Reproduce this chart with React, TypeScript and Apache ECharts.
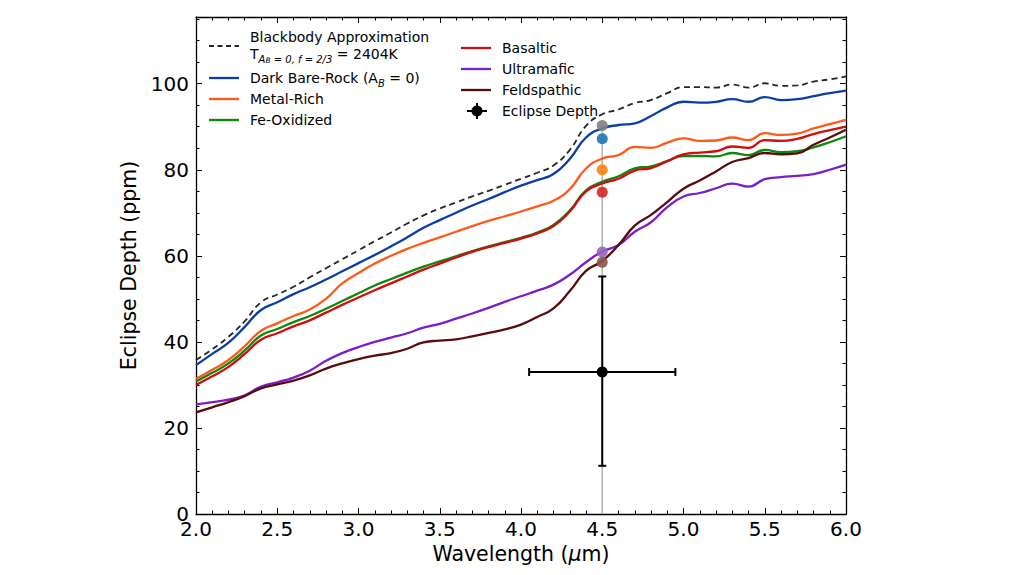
import React, { useEffect, useRef } from "react";
import * as echarts from "echarts";

const WL = [2.0, 2.1, 2.2, 2.3, 2.4, 2.5, 2.6, 2.7, 2.8, 2.9, 3.0, 3.1, 3.2, 3.3, 3.4, 3.5, 3.6, 3.7, 3.8, 3.9, 4.0, 4.1, 4.2, 4.3, 4.4, 4.5, 4.6, 4.7, 4.8, 4.9, 5.0, 5.1, 5.2, 5.3, 5.4, 5.5, 5.6, 5.7, 5.8, 5.9, 6.0];

const BLACKBODY = [35.8, 38.3, 41.2, 44.8, 49.2, 51.0, 52.8, 55.0, 57.1, 59.2, 61.3, 63.4, 65.4, 67.5, 69.4, 71.0, 72.4, 73.8, 75.1, 76.5, 77.9, 79.3, 81.0, 84.6, 90.2, 92.9, 94.0, 95.5, 96.2, 97.8, 99.2, 99.2, 99.1, 99.8, 99.1, 100.1, 99.5, 99.6, 100.5, 101.0, 101.7];
const DARK = [34.6, 37.2, 39.8, 43.5, 47.4, 49.2, 51.1, 52.7, 54.5, 56.4, 58.3, 60.2, 62.2, 64.3, 66.5, 68.3, 70.0, 71.7, 73.2, 74.8, 76.3, 77.6, 79.0, 82.5, 87.5, 89.6, 90.4, 90.8, 92.5, 94.5, 95.8, 95.6, 95.8, 96.4, 95.8, 96.9, 96.2, 96.4, 97.1, 97.8, 98.4];
const METAL = [31.4, 33.5, 35.8, 39.0, 42.6, 44.3, 46.0, 47.5, 50.0, 53.6, 56.0, 58.2, 60.0, 61.6, 63.0, 64.3, 65.6, 66.9, 68.1, 69.2, 70.3, 71.5, 72.8, 75.5, 80.3, 82.6, 83.4, 85.3, 85.1, 86.3, 87.3, 86.7, 86.8, 87.5, 86.9, 88.5, 88.1, 88.4, 89.6, 90.6, 91.6];
const FEOX = [30.8, 32.8, 35.0, 38.0, 41.5, 43.0, 44.6, 46.0, 47.7, 49.5, 51.3, 53.1, 54.6, 56.1, 57.5, 58.7, 59.9, 61.1, 62.2, 63.2, 64.2, 65.4, 67.2, 70.5, 75.2, 77.2, 78.5, 80.3, 80.8, 82.0, 83.2, 83.2, 83.1, 83.9, 83.4, 84.6, 84.1, 84.3, 85.2, 86.4, 87.8];
const BASALTIC = [30.0, 32.0, 34.2, 37.2, 40.5, 42.0, 43.6, 45.0, 46.8, 48.6, 50.3, 52.0, 53.6, 55.2, 56.8, 58.2, 59.6, 60.9, 62.0, 63.0, 64.0, 65.2, 66.9, 70.3, 75.0, 76.8, 77.9, 79.8, 80.4, 82.0, 83.6, 84.0, 84.3, 85.4, 85.1, 86.9, 86.7, 87.2, 88.3, 89.2, 90.0];
const ULTRAMAFIC = [25.5, 26.0, 26.6, 27.6, 29.6, 30.6, 31.7, 33.3, 35.6, 37.4, 38.8, 40.0, 41.0, 42.0, 43.3, 44.2, 45.4, 46.6, 47.9, 49.3, 50.6, 51.9, 53.3, 55.6, 58.5, 61.0, 62.5, 65.6, 67.8, 71.3, 73.8, 74.6, 75.7, 76.8, 76.1, 77.8, 78.3, 78.6, 79.0, 80.0, 81.2];
const FELDSPATHIC = [23.6, 24.8, 26.0, 27.4, 29.2, 30.1, 31.0, 32.2, 33.8, 35.0, 36.0, 36.8, 37.4, 38.4, 39.9, 40.3, 40.6, 41.3, 42.1, 42.9, 44.0, 45.8, 47.8, 51.8, 56.5, 58.8, 62.5, 67.0, 69.5, 72.5, 75.6, 77.5, 79.6, 81.8, 82.7, 83.9, 83.6, 83.8, 85.8, 87.5, 89.3];

const POINT_WL = 4.5;
const POINT_VALUES = [90.3, 87.2, 80.0, 74.8, 60.9, 58.5];
const POINT_COLORS = ["#7f7f7f", "#1f77b4", "#ff7f0e", "#d62728", "#9467bd", "#8c564b"];

const ECLIPSE = { x: 4.5, y: 33.0, xLo: 4.05, xHi: 4.95, yLo: 11.2, yHi: 55.2 };

const X_TICKS = [2.0, 2.5, 3.0, 3.5, 4.0, 4.5, 5.0, 5.5, 6.0];
const Y_TICKS = [0, 20, 40, 60, 80, 100];

const FONT = "DejaVu Sans";

const GRID = { left: 196, top: 17, width: 650, height: 497 };

export default function App() {
  const ref = useRef<HTMLDivElement>(null);
  useEffect(() => {
    document.body.style.margin = "0";
    const chart = echarts.init(ref.current!, null, { renderer: "svg" });
    const pair = (arr: number[]) => WL.map((w, i) => [w, arr[i]]);
    const lineSeries = (name: string, arr: number[], color: string, dashed = false) => ({
      name,
      type: "line",
      data: pair(arr),
      smooth: 0.5,
      showSymbol: false,
      silent: true,
      z: 3,
      lineStyle: { color, width: dashed ? 1.8 : 2.3, type: dashed ? [6, 4] : "solid" },
    });
    const tickColor = "#000";
    const option: any = {
      animation: false,
      backgroundColor: "#fff",
      grid: [
        { ...GRID, containLabel: false },
        { ...GRID, containLabel: false },
      ],
      xAxis: [
        {
          type: "value", gridIndex: 0, position: "bottom", min: 2, max: 6, interval: 0.5,
          axisLine: { show: true, onZero: false, lineStyle: { color: tickColor, width: 1.3 } },
          axisTick: { show: true, inside: true, length: 6, lineStyle: { color: tickColor, width: 1 } },
          minorTick: { show: true, splitNumber: 5, length: 3.5, lineStyle: { color: tickColor, width: 1 } },
          axisLabel: { show: true, fontSize: 20, color: "#000", fontFamily: FONT, margin: 5, formatter: (v: number) => (X_TICKS.includes(v) ? v.toFixed(1) : "") },
          splitLine: { show: false },
          name: "Wavelength ({i|μ}m)",
          nameLocation: "middle",
          nameGap: 28,
          nameTextStyle: { fontSize: 20.5, color: "#000", fontFamily: FONT, rich: { i: { fontSize: 20.5, fontStyle: "italic", fontFamily: FONT, color: "#000" } } },
        },
        {
          type: "value", gridIndex: 0, position: "top", min: 2, max: 6, interval: 0.5,
          axisLine: { show: true, onZero: false, lineStyle: { color: tickColor, width: 1.3 } },
          axisTick: { show: true, inside: true, length: 6, lineStyle: { color: tickColor, width: 1 } },
          minorTick: { show: true, splitNumber: 5, length: 3.5, lineStyle: { color: tickColor, width: 1 } },
          axisLabel: { show: false },
          splitLine: { show: false },
        },
        { type: "value", gridIndex: 1, min: 2, max: 6, show: false },
      ],
      yAxis: [
        {
          type: "value", gridIndex: 0, position: "left", min: 0, max: 115.5, interval: 20,
          axisLine: { show: true, onZero: false, lineStyle: { color: tickColor, width: 1.3 } },
          axisTick: { show: true, inside: true, length: 6, lineStyle: { color: tickColor, width: 1 } },
          axisLabel: { show: true, showMaxLabel: false, fontSize: 20, color: "#000", fontFamily: FONT, margin: 7, formatter: (v: number) => (Y_TICKS.includes(v) ? String(v) : "") },
          splitLine: { show: false },
          name: "Eclipse Depth (ppm)",
          nameLocation: "middle",
          nameGap: 49,
          nameRotate: 90,
          nameTextStyle: { fontSize: 20.5, color: "#000", fontFamily: FONT },
        },
        {
          type: "value", gridIndex: 0, position: "right", min: 0, max: 115.5, interval: 20,
          axisLine: { show: true, onZero: false, lineStyle: { color: tickColor, width: 1.3 } },
          axisTick: { show: true, inside: true, length: 6, lineStyle: { color: tickColor, width: 1 } },
          axisLabel: { show: false },
          splitLine: { show: false },
        },
        {
          type: "value", gridIndex: 1, position: "left", min: 0, max: 115.5, interval: 5,
          axisLine: { show: false },
          axisTick: { show: true, inside: true, length: 3.5, lineStyle: { color: tickColor, width: 1 } },
          axisLabel: { show: false },
          splitLine: { show: false },
        },
        {
          type: "value", gridIndex: 1, position: "right", min: 0, max: 115.5, interval: 5,
          axisLine: { show: false },
          axisTick: { show: true, inside: true, length: 3.5, lineStyle: { color: tickColor, width: 1 } },
          axisLabel: { show: false },
          splitLine: { show: false },
        },
      ],
      series: [
        {
          type: "line", name: "guide", data: [[POINT_WL, 0], [POINT_WL, POINT_VALUES[0]]],
          showSymbol: false, silent: true, z: 2,
          lineStyle: { color: "#b4b4b4", width: 1.6 },
        },
        lineSeries("Blackbody", BLACKBODY, "#262626", true),
        lineSeries("Dark Bare-Rock", DARK, "#0a3ea6"),
        lineSeries("Metal-Rich", METAL, "#ff5a1a"),
        lineSeries("Fe-Oxidized", FEOX, "#0f870f"),
        lineSeries("Basaltic", BASALTIC, "#d20c0c"),
        lineSeries("Ultramafic", ULTRAMAFIC, "#7a1fc4"),
        lineSeries("Feldspathic", FELDSPATHIC, "#5a0c0c"),
        {
          type: "scatter", name: "points", silent: true, z: 5,
          symbolSize: 11,
          data: POINT_VALUES.map((v, i) => ({ value: [POINT_WL, v], itemStyle: { color: POINT_COLORS[i], opacity: 0.9 } })),
        },
        {
          type: "custom", name: "Eclipse Depth", silent: true, z: 6,
          data: [[ECLIPSE.x, ECLIPSE.y, ECLIPSE.xLo, ECLIPSE.xHi, ECLIPSE.yLo, ECLIPSE.yHi]],
          encode: { x: 0, y: 1 },
          renderItem: (params: any, api: any) => {
            const c = api.coord([api.value(0), api.value(1)]);
            const l = api.coord([api.value(2), api.value(1)]);
            const r = api.coord([api.value(3), api.value(1)]);
            const b = api.coord([api.value(0), api.value(4)]);
            const t = api.coord([api.value(0), api.value(5)]);
            const st = { stroke: "#000", lineWidth: 2 };
            const cap = 4;
            return {
              type: "group",
              children: [
                { type: "line", shape: { x1: l[0], y1: l[1], x2: r[0], y2: r[1] }, style: st },
                { type: "line", shape: { x1: c[0], y1: b[1], x2: c[0], y2: t[1] }, style: st },
                { type: "line", shape: { x1: l[0], y1: l[1] - cap, x2: l[0], y2: l[1] + cap }, style: st },
                { type: "line", shape: { x1: r[0], y1: r[1] - cap, x2: r[0], y2: r[1] + cap }, style: st },
                { type: "line", shape: { x1: c[0] - cap, y1: b[1], x2: c[0] + cap, y2: b[1] }, style: st },
                { type: "line", shape: { x1: c[0] - cap, y1: t[1], x2: c[0] + cap, y2: t[1] }, style: st },
                { type: "circle", shape: { cx: c[0], cy: c[1], r: 5.5 }, style: { fill: "#000" } },
              ],
            };
          },
        },
      ],
      graphic: (() => {
        const txt = (x: number, y: number, text: string, extra: any = {}) => ({
          type: "text", x, y, silent: true,
          style: { text, fill: "#000", fontSize: 14, fontFamily: FONT, verticalAlign: "middle", align: "left", ...extra },
        });
        const handle = (x1: number, y: number, color: string, dashed = false) => ({
          type: "line", silent: true,
          shape: { x1, y1: y, x2: x1 + 30, y2: y },
          style: { stroke: color, lineWidth: dashed ? 1.8 : 2.3, lineDash: dashed ? [5, 3.5] : null },
        });
        const sub = { fontSize: 10, fontStyle: "italic", fontFamily: FONT, fill: "#000", color: "#000", verticalAlign: "bottom", lineHeight: 12 };
        const sub2 = { fontSize: 7.5, fontStyle: "italic", fontFamily: FONT, fill: "#000", color: "#000", verticalAlign: "bottom", lineHeight: 9 };
        const main = { fontSize: 14, fontFamily: FONT, fill: "#000", color: "#000", lineHeight: 20 };
        const x1 = 209, tx1 = 250, x2 = 461, tx2 = 502;
        return [
          handle(x1, 46, "#262626", true),
          txt(tx1, 37, "Blackbody Approximation"),
          txt(tx1, 54, "{m|T}{s|A}{ss|B}{s| = 0, f = 2/3}{m| = 2404K}", { rich: { m: main, s: sub, ss: sub2 }, lineHeight: 20 }),
          handle(x1, 78, "#0a3ea6"),
          txt(tx1, 78, "{m|Dark Bare-Rock (A}{s|B}{m| = 0)}", { rich: { m: main, s: { ...sub, lineHeight: 13 } }, lineHeight: 20 }),
          handle(x1, 99, "#ff5a1a"),
          txt(tx1, 99, "Metal-Rich"),
          handle(x1, 120, "#0f870f"),
          txt(tx1, 120, "Fe-Oxidized"),
          handle(x2, 48, "#d20c0c"),
          txt(tx2, 48, "Basaltic"),
          handle(x2, 69, "#7a1fc4"),
          txt(tx2, 69, "Ultramafic"),
          handle(x2, 90, "#5a0c0c"),
          txt(tx2, 90, "Feldspathic"),
          { type: "line", silent: true, shape: { x1: 467, y1: 111, x2: 487, y2: 111 }, style: { stroke: "#000", lineWidth: 2 } },
          { type: "line", silent: true, shape: { x1: 477, y1: 103, x2: 477, y2: 119 }, style: { stroke: "#000", lineWidth: 2 } },
          { type: "circle", silent: true, shape: { cx: 477, cy: 111, r: 5.5 }, style: { fill: "#000" } },
          txt(tx2, 111, "Eclipse Depth"),
        ];
      })(),
    };
    chart.setOption(option);
    return () => chart.dispose();
  }, []);
  return <div ref={ref} style={{ width: 1024, height: 575 }} />;
}
